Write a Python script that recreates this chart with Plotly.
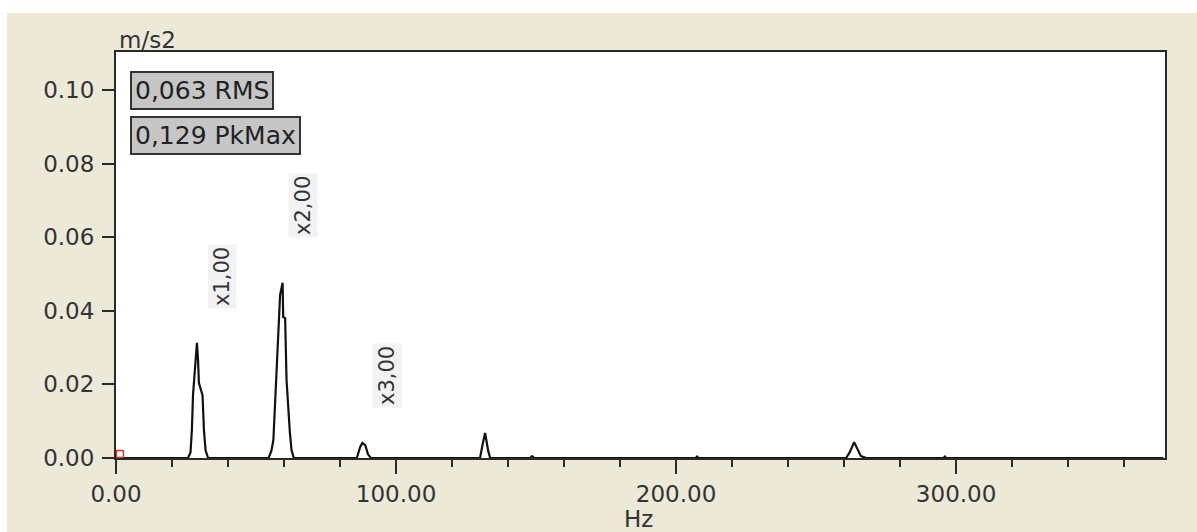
import plotly.graph_objects as go

# Spectrum (Hz, m/s2)
freq_hz = [0.0, 25.7, 26.6, 27.1, 27.5, 28.9, 29.3, 29.6, 30.9, 31.4, 32.0, 32.9,
           54.5, 55.5, 56.2, 57.4, 58.6, 59.5, 59.7, 60.4, 60.9, 62.1, 62.7, 63.5,
           86.0, 87.2, 88.0, 89.0, 90.0, 91.0,
           130.0, 131.0, 131.8, 132.9, 133.6,
           147.8, 148.6, 149.4,
           207.0, 207.5, 208.0,
           260.7, 262.0, 263.6, 265.0, 266.0, 267.9,
           295.5, 296.0, 296.5,
           374.0]
amp_ms2 = [0.0, 0.0, 0.0015, 0.0076, 0.0171, 0.0313, 0.0266, 0.0204, 0.0171, 0.0076, 0.0020, 0.0,
           0.0, 0.0020, 0.0049, 0.0239, 0.0443, 0.0476, 0.0383, 0.0380, 0.0212, 0.0068, 0.0020, 0.0,
           0.0, 0.0030, 0.0041, 0.0035, 0.0010, 0.0,
           0.0, 0.0040, 0.0068, 0.0020, 0.0,
           0.0, 0.0005, 0.0,
           0.0, 0.0004, 0.0,
           0.0, 0.0015, 0.0043, 0.0020, 0.0005, 0.0,
           0.0, 0.0004, 0.0,
           0.0]

# Order labels
order_labels = ["x1,00", "x2,00", "x3,00"]
order_x = [37.9, 66.8, 96.8]
order_y = [0.0492, 0.0685, 0.0223]

# Summary values
summary_texts = ["0,063 RMS", "0,129 PkMax"]

# Cursor marker
cursor_x = [1.4]
cursor_y = [0.0011]

x_range = [0, 374.6]
y_range = [0, 0.1103]

BG = "#ECE9D8"
INK = "#2a2a2a"
FONT = "DejaVu Sans"

fig = go.Figure()
fig.add_trace(go.Scatter(x=freq_hz, y=amp_ms2, mode="lines",
                         line=dict(color="#111111", width=2.2), showlegend=False,
                         hoverinfo="x+y"))
fig.add_trace(go.Scatter(x=cursor_x, y=cursor_y, mode="markers",
                         marker=dict(symbol="square-open", size=7, color="#e03030",
                                     line=dict(width=1.5, color="#e03030")),
                         cliponaxis=False, showlegend=False))

L, R, T, B = 116, 32, 52, 74
W, H = 1197, 532
pw, ph = W - L - R, H - T - B

def px_to_paper(xpx, ypx):
    return (xpx - L) / pw, (H - B - ypx) / ph

annotations = []
for lab, xv, yv in zip(order_labels, order_x, order_y):
    annotations.append(dict(x=xv, y=yv, xref="x", yref="y", text=lab, showarrow=False,
                            textangle=-90, font=dict(family=FONT, size=21, color="#333333"),
                            bgcolor="#F2F2F2", borderpad=2))

box_pos = [(130, 90.5), (130, 135.5)]
for txt, (bx, by) in zip(summary_texts, box_pos):
    xp, yp = px_to_paper(bx, by)
    annotations.append(dict(x=xp, y=yp, xref="paper", yref="paper", text=txt,
                            showarrow=False, xanchor="left", yanchor="middle",
                            font=dict(family=FONT, size=25, color="#222222"),
                            bgcolor="#C6C6C6", bordercolor="#333333", borderwidth=2,
                            borderpad=3))

xp, yp = px_to_paper(117, 40)
annotations.append(dict(x=xp, y=yp, xref="paper", yref="paper", text="m/s2", showarrow=False,
                        xanchor="left", yanchor="middle",
                        font=dict(family=FONT, size=23, color="#333333")))
xp, yp = px_to_paper(638, 519)
annotations.append(dict(x=xp, y=yp, xref="paper", yref="paper", text="Hz", showarrow=False,
                        xanchor="center", yanchor="middle",
                        font=dict(family=FONT, size=23, color="#333333")))

# white strips at top and left edges of the screenshot
x0p, _ = px_to_paper(0, 0)
x1p, _ = px_to_paper(7, 0)
_, ytop = px_to_paper(0, 0)
_, ystrip = px_to_paper(0, 13)
_, ybot = px_to_paper(0, H)
xrp, _ = px_to_paper(W, 0)
shapes = [
    dict(type="rect", xref="paper", yref="paper", x0=x0p, x1=xrp, y0=ystrip, y1=ytop,
         fillcolor="white", line=dict(width=0), layer="below"),
    dict(type="rect", xref="paper", yref="paper", x0=x0p, x1=x1p, y0=ybot, y1=ytop,
         fillcolor="white", line=dict(width=0), layer="below"),
]

fig.update_layout(
    width=W, height=H,
    margin=dict(l=L, r=R, t=T, b=B, pad=0),
    paper_bgcolor=BG, plot_bgcolor="white",
    font=dict(family=FONT, size=23, color="#333333"),
    annotations=annotations, shapes=shapes,
    showlegend=False,
)
fig.update_xaxes(range=x_range, dtick=100, tick0=0, tickformat=".2f",
                 ticks="outside", ticklen=14, tickwidth=2, tickcolor=INK,
                 minor=dict(dtick=20, tick0=0, ticks="outside", ticklen=7, tickwidth=2, tickcolor=INK),
                 showgrid=False, zeroline=False, showline=True, linecolor=INK, linewidth=2,
                 mirror=True, tickfont=dict(family=FONT, size=23, color="#333333"))
fig.update_yaxes(range=y_range, dtick=0.02, tick0=0, tickformat=".2f",
                 ticks="outside", ticklen=12, tickwidth=2, tickcolor=INK,
                 showgrid=False, zeroline=False, showline=True, linecolor=INK, linewidth=2,
                 mirror=True, tickfont=dict(family=FONT, size=23, color="#333333"),
                 ticklabelstandoff=3)

fig.write_html("out.html", config={"displayModeBar": False},
               post_script="document.body.style.margin='0';document.body.style.padding='0';")
